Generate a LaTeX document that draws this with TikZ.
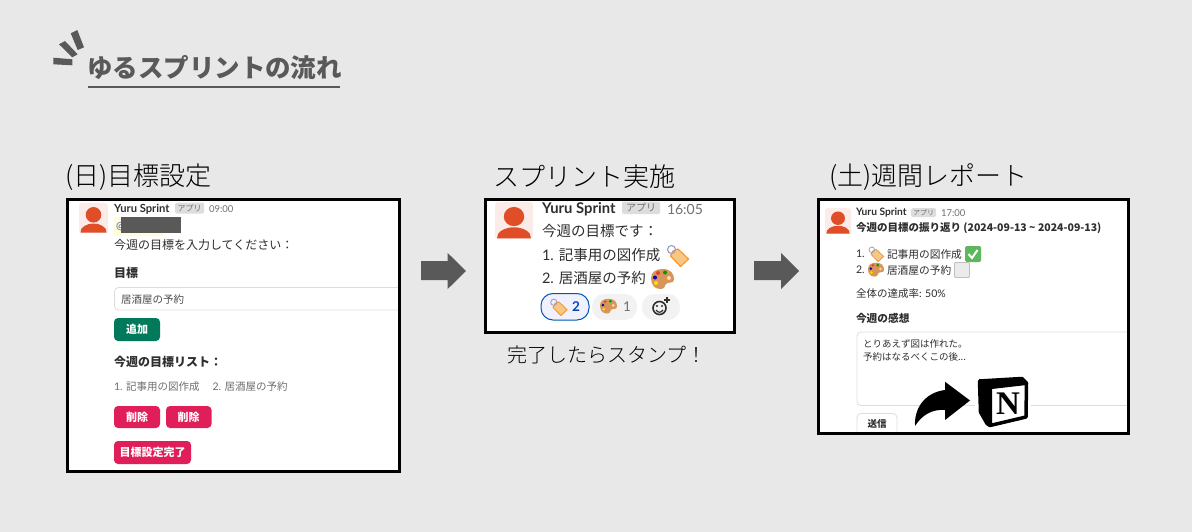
\documentclass[tikz,border=0pt]{standalone}
\usepackage{fontspec}
\setmainfont{Lato}
\newfontfamily\jp{Noto Sans CJK JP}
\newfontfamily\jpl{Noto Sans CJK JP Light}
\newcommand\sz[1]{\fontsize{#1}{#1}\selectfont}
\definecolor{bgc}{HTML}{E8E8E8}
\definecolor{dgray}{HTML}{595959}
\definecolor{ink}{HTML}{2E2E2E}
\definecolor{mut}{HTML}{6F6F6F}
\definecolor{ava}{HTML}{FCECE9}
\definecolor{red}{HTML}{E04E27}
\definecolor{grn}{HTML}{007A5A}
\definecolor{pink}{HTML}{E01E5A}
\definecolor{bord}{HTML}{DDDDDD}
\definecolor{tagc}{HTML}{F6C884}
\definecolor{palc}{HTML}{D8955A}
\definecolor{chk}{HTML}{5DB75D}
\tikzset{
  x=1pt,y=-1pt,
  txt/.style={anchor=west,inner sep=0pt,outer sep=0pt,text=ink},
  head/.style={txt,text=black,font=\jpl\sz{26}},
  frame/.style={draw=black,line width=3pt,fill=none},
  btn/.style={rounded corners=4pt,fill=#1},
  btntxt/.style={inner sep=0pt,text=white,font=\jp\bfseries\sz{#1}},
  badge/.style={fill=bord,rounded corners=1.5pt},
  pill/.style={rounded corners=12pt,fill=#1},
  bararrow/.style={fill=dgray},
}
\newcommand\avatar[4]{% x,y,w,h box
  \begin{scope}[shift={(#1,#2)},xscale=#3/29,yscale=#4/30]
    \fill[ava,rounded corners=3pt] (0,0) rectangle (29,30);
    \fill[red] (14.5,11.8) circle [x radius=7.8,y radius=7.8];
    \fill[red] (1.5,29.5) .. controls (1,24) and (8,20.5) .. (14.5,20.5) .. controls (21,20.5) and (28,24) .. (27.5,29.5) -- cycle;
  \end{scope}}
\newcommand\tagicon[3]{% x,y,size
  \begin{scope}[shift={(#1,#2)},scale=#3/23]
    \draw[line width=#3*0.05pt,draw=orange!70!tagc,fill=tagc,line join=round] (7,7) -- (12,5) -- (22.5,15) -- (14.5,22.5) -- (4.5,12) -- cycle;
    \draw[line width=#3*0.05pt,draw=blue!25!gray!60] (5.5,5.5) circle [x radius=4,y radius=4];
  \end{scope}}
\newcommand\palicon[3]{% x,y,size
  \begin{scope}[shift={(#1,#2)},scale=#3/23]
    \fill[palc] (11.5,1) .. controls (20,1) and (23,6) .. (23,11) .. controls (23,17) and (17,13) .. (15,16) .. controls (13,19) and (14,21) .. (9,21) .. controls (3,21) and (0,16) .. (0,10) .. controls (0,4) and (5,1) .. (11.5,1) -- cycle;
    \fill[red!80!pink] (7,5) circle [x radius=2,y radius=2];
    \fill[green!60!black] (14,4.5) circle [x radius=2,y radius=2];
    \fill[blue!70!black] (4,9.5) circle [x radius=2,y radius=2];
    \fill[yellow!80!orange] (5,15) circle [x radius=2,y radius=2];
    \fill[orange!30] (18,10) circle [x radius=2,y radius=2];
  \end{scope}}
\begin{document}
\begin{tikzpicture}
\useasboundingbox (0,0) rectangle (1192,532);
\fill[bgc] (0,0) rectangle (1192,532);

% title
\fill[dgray] (53.3,57.7) -- (72.3,59.3) -- (72.3,65.3) -- (53.3,64.3) -- cycle;
\fill[dgray] (59,44.3) -- (65,41) -- (77.7,54.3) -- (72.3,57.3) -- cycle;
\fill[dgray] (70.7,33.3) -- (77.3,30) -- (84,47.3) -- (77.7,50) -- cycle;
\node[txt,text=dgray,font=\jp\bfseries\sz{25.5}] (title) at (87,68) {ゆるスプリントの流れ};
\draw[dgray,line width=2pt] (88,87) -- (340,87);

% headings
\node[head] (h1) at (65,177) {(日)目標設定};
\node[head] (h2) at (493,177) {スプリント実施};
\node[head] (h3) at (829,177) {(土)週間レポート};

% ---------- box 1
\fill[white] (67.5,199.5) rectangle (399.5,471.5);
\avatar{79}{203}{29}{30}
\node[txt,font=\bfseries\sz{11.2}] (a1n) at (114,209) {Yuru Sprint};
\fill[badge] (175,202.5) rectangle (204,213.5);
\node[inner sep=0pt,text=mut,font=\jp\sz{8}] (a1b) at (189.5,208) {アプリ};
\node[txt,text=mut,font=\sz{9.5}] (a1t) at (209,209.5) {09:00};
\fill[yellow!15,rounded corners=2pt] (114,217) rectangle (164,236);
\node[txt,text=blue!40!gray,font=\sz{10.5}] (a1at) at (116,227) {@};
\fill[dgray] (121,217) rectangle (181,233);
\node[txt,font=\jp\sz{12}] (a1q) at (114,245) {今週の目標を入力してください：};
\node[txt,font=\jp\bfseries\sz{12}] (a1l) at (114,273) {目標};
\draw[bord,fill=white,rounded corners=4pt,line width=.8pt] (114.5,287.5) rectangle (412,310);
\node[txt,text=ink!85,font=\jp\sz{10.5}] (a1i) at (121,300) {居酒屋の予約};
\fill[bgc] (401,280) rectangle (415,320);
\fill[btn=grn] (114,318) rectangle (160,341);
\node[btntxt=11] (a1add) at (137,329.5) {追加};
\node[txt,font=\jp\bfseries\sz{12}] (a1r) at (114,362) {今週の目標リスト：};
\node[txt,text=mut,font=\jp\sz{10.5}] (a1g1) at (114,387) {{\fontspec{Lato}1. }記事用の図作成};
\node[txt,text=mut,font=\jp\sz{10.5}] (a1g2) at (212.5,387) {{\fontspec{Lato}2. }居酒屋の予約};
\fill[btn=pink] (114,406) rectangle (160,428);
\node[btntxt=11] (a1d1) at (137,417) {削除};
\fill[btn=pink] (166,406) rectangle (211.5,428);
\node[btntxt=11] (a1d2) at (188.7,417) {削除};
\fill[btn=pink] (114,441) rectangle (191,464);
\node[btntxt=11] (a1done) at (152.5,452.5) {目標設定完了};
\draw[frame] (67.5,199.5) rectangle (399.5,471.5);

% arrows
\fill[bararrow] (421,261) -- (447.7,261) -- (447.7,253) -- (466,271) -- (447.7,289) -- (447.7,280) -- (421,280) -- cycle;
\fill[bararrow] (754,261) -- (781,261) -- (781,253) -- (799,271) -- (781,289) -- (781,280) -- (754,280) -- cycle;

% ---------- box 2
\fill[white] (485.5,199.5) rectangle (734.5,332.5);
\avatar{495}{202}{38}{37}
\node[txt,font=\bfseries\sz{14.8}] (b1n) at (542,209.5) {Yuru Sprint};
\fill[badge] (622,201.5) rectangle (660,214);
\node[inner sep=0pt,text=mut,font=\jp\sz{10}] (b1b) at (641,207.5) {アプリ};
\node[txt,text=mut,font=\sz{14}] (b1t) at (667,209.5) {16:05};
\node[txt,font=\jp\sz{14.5}] (b1q) at (542,231) {今週の目標です：};
\node[txt,font=\jp\sz{14.5}] (b1g1) at (542,255.5) {{\fontspec{Lato}1. }記事用の図作成};
\tagicon{666}{244}{23}
\node[txt,font=\jp\sz{14.5}] (b1g2) at (542,278) {{\fontspec{Lato}2. }居酒屋の予約};
\palicon{651}{268}{23}
\draw[pill=blue!6,draw=blue!50!cyan!70!black,line width=1pt] (541,293.5) rectangle (589,320);
\tagicon{549.5}{298}{18}
\node[txt,text=blue!60!cyan!70!black,font=\bfseries\sz{13.5}] (b1c1) at (572,307) {2};
\fill[pill=black!5] (592,294) rectangle (637,320);
\palicon{600}{298}{17}
\node[txt,text=mut,font=\sz{13.5}] (b1c2) at (623,307) {1};
\fill[pill=black!5] (642,294) rectangle (680,320);
\draw[ink,line width=1.6pt] (659.5,308) circle [x radius=6.5,y radius=6.5];
\fill[ink] (657,306) circle [x radius=1.1,y radius=1.1] (662,306) circle [x radius=1.1,y radius=1.1];
\draw[ink,line width=1.2pt] (656,310) .. controls (658,313) and (661,313) .. (663,310);
\draw[ink,line width=1.2pt] (667,297) -- (667,303) (664,300) -- (670,300);
\draw[frame] (485.5,199.5) rectangle (734.5,332.5);
\node[txt,text=black,font=\jpl\sz{20}] (b1f) at (507,355) {完了したらスタンプ！};

% ---------- box 3
\fill[white] (818.5,199.5) rectangle (1128.5,433.5);
\avatar{825}{208}{26}{26}
\node[txt,font=\bfseries\sz{10.2}] (c1n) at (856,212.5) {Yuru Sprint};
\fill[badge] (911,208) rectangle (936,217);
\node[inner sep=0pt,text=mut,font=\jp\sz{7}] (c1b) at (923.5,212.3) {アプリ};
\node[txt,text=mut,font=\sz{9.5}] (c1t) at (941,213) {17:00};
\node[txt,font=\jp\bfseries\sz{10.5}] (c1h) at (856,228) {今週の目標の振り返り (2024-09-13 \textasciitilde{} 2024-09-13)};
\node[txt,font=\sz{10.5}] (c1k1) at (856,254) {1.};
\tagicon{868}{246}{16}
\node[txt,font=\jp\sz{10.7}] (c1g1) at (887,254) {記事用の図作成};
\fill[chk,rounded corners=1.5pt] (965,246) rectangle (981,262);
\draw[white,line width=2pt] (968.5,254) -- (972,258) -- (977.5,250);
\node[txt,font=\sz{10.5}] (c1k2) at (856,270) {2.};
\palicon{868}{262}{16}
\node[txt,font=\jp\sz{10.7}] (c1g2) at (887,270) {居酒屋の予約};
\draw[black!25,fill=black!8,rounded corners=1pt,line width=.8pt] (954.5,262.5) rectangle (969.5,277.5);
\node[txt,font=\jp\sz{10.5}] (c1p) at (856,294) {全体の達成率{\fontspec{Lato}: 50\%}};
\node[txt,font=\jp\bfseries\sz{10.7}] (c1s) at (856,318) {今週の感想};
\draw[bord,fill=white,rounded corners=4pt,line width=.8pt] (857,332) rectangle (1140,405.5);
\node[txt,font=\jp\sz{9.5}] (c1a1) at (863,344) {とりあえず図は作れた。};
\node[txt,font=\jp\sz{9.5}] (c1a2) at (863,357) {予約はなるべくこの後...};
\fill[bgc] (1130,325) rectangle (1145,415);
\begin{scope}
  \clip (818.5,199.5) rectangle (1128.5,433.5);
  \draw[bord,fill=white,rounded corners=4pt,line width=.8pt] (857,413.5) rectangle (897,440);
\end{scope}
\node[inner sep=0pt,text=ink,font=\jp\bfseries\sz{9.5}] (c1send) at (877,423.5) {送信};
% curved arrow
\fill[black] (915,426) .. controls (914,405) and (928,392) .. (945,390) -- (945,381.7) -- (970,400.5) -- (945,420) -- (945,410) .. controls (932,409) and (922,415) .. (915,426) -- cycle;
% notion
\fill[white] (975,376) rectangle (1031,430);
\draw[black,line width=3.5pt,fill=white,line join=round] (979.5,381) -- (1022,378.5) -- (1026.5,383) -- (1026,417) -- (990,425.5) -- (987,423.5) -- (980.5,412) -- cycle;
\fill[black] (979.5,381) -- (1022,378.5) -- (1026.5,385) -- (992,389) -- (992,425) -- (987,423.5) -- (980.5,412) -- cycle;
\node[inner sep=0pt,text=black,font=\fontspec{Liberation Serif}\bfseries\sz{33}] (c1N) at (1008,404) {N};
\draw[frame] (818.5,199.5) rectangle (1128.5,433.5);
\end{tikzpicture}
\end{document}
